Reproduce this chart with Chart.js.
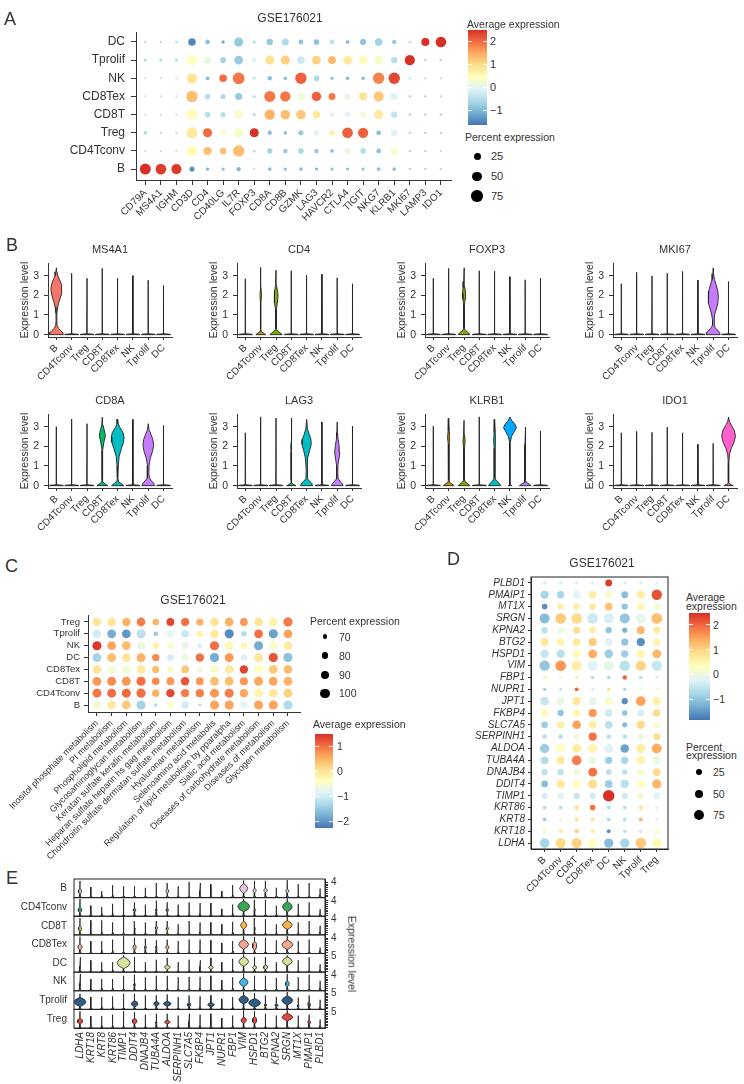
<!DOCTYPE html>
<html>
<head>
<meta charset="utf-8">
<script src="https://cdn.jsdelivr.net/npm/chart.js@4.4.0/dist/chart.umd.min.js"></script>
<style>
html,body{margin:0;padding:0;background:#fff}
body{position:relative;width:744px;height:1084px;overflow:hidden;font-family:"Liberation Sans",Arial,Helvetica,sans-serif;color:#333}
canvas{position:absolute}
.t{position:absolute;white-space:nowrap;line-height:1;color:#333}
.bar{position:absolute}
.dot{position:absolute;border-radius:50%;background:#000}
.wt{position:absolute;background:#fff;height:1px}
</style>
</head>
<body>
<script>
// ================= DATA =================
// ---- Panel A : dot plot of marker genes ----
const A_genes = ['CD79A','MS4A1','IGHM','CD3D','CD4','CD40LG','IL7R','FOXP3','CD8A','CD8B','GZMK','LAG3','HAVCR2','CTLA4','TIGIT','NKG7','KLRB1','MKI67','LAMP3','IDO1'];
const A_cells = ['B','CD4Tconv','Treg','CD8T','CD8Tex','NK','Tprolif','DC']; // bottom -> top
const A_avg_B        = [2.5, 2.4, 2.4, -1.4, -1.0, -0.9, -1.0, -0.4, -0.9, -0.9, -0.9, -0.9, -0.9, -0.9, -0.9, -0.9, -0.9, -0.5, -0.5, -0.5];
const A_pct_B        = [70, 65, 58, 12, 4, 4, 8, 2, 5, 4, 5, 4, 3, 3, 3, 6, 5, 2, 2, 2];
const A_avg_CD4Tconv = [-0.4, -0.4, -0.4, 0.5, 1.3, 1.3, 1.3, -0.4, -0.7, -0.8, -0.6, -0.8, -0.9, 0.1, -0.5, -0.9, 0.3, -0.5, -0.5, -0.5];
const A_pct_CD4Tconv = [1, 1, 1, 65, 35, 22, 75, 3, 12, 8, 15, 8, 5, 15, 15, 10, 25, 2, 2, 1];
const A_avg_Treg     = [-0.5, -0.4, -0.4, 0.8, 2.0, 0.3, 0.3, 2.5, -0.9, -0.9, -0.8, 0.0, 0.7, 2.1, 2.1, -0.9, -0.1, -0.5, -0.5, -0.5];
const A_pct_Treg     = [6, 2, 2, 70, 45, 15, 55, 45, 8, 5, 12, 15, 12, 65, 60, 10, 25, 2, 2, 2];
const A_avg_CD8T     = [-0.4, -0.4, -0.4, 0.5, -0.5, -0.5, 0.3, -0.6, 1.4, 1.3, 1.2, 0.8, 0.0, -0.1, 0.2, 0.8, -0.4, -0.5, -0.5, -0.5];
const A_pct_CD8T     = [1, 1, 1, 65, 15, 12, 45, 3, 60, 50, 50, 30, 10, 15, 18, 45, 20, 2, 2, 2];
const A_avg_CD8Tex   = [-0.4, -0.4, -0.4, 1.3, -0.5, -0.6, -0.8, -0.5, 1.9, 1.9, 0.2, 2.1, 1.9, 0.1, 0.9, 1.2, -0.1, -0.5, -0.5, -0.5];
const A_pct_CD8Tex   = [1, 1, 1, 75, 15, 12, 25, 3, 70, 60, 35, 50, 25, 20, 35, 60, 25, 2, 2, 1];
const A_avg_NK       = [-0.4, -0.4, -0.4, 0.9, -1.0, 2.0, 1.9, -0.5, -0.9, -0.9, 2.1, -0.6, -1.0, -1.0, -1.0, 1.8, 2.3, -0.5, -0.5, -0.5];
const A_pct_NK       = [1, 1, 1, 60, 5, 30, 80, 2, 8, 5, 75, 15, 3, 4, 4, 75, 75, 1, 1, 1];
const A_avg_Tprolif  = [-0.5, -0.5, -0.5, 0.4, 0.1, -0.7, -0.8, -0.1, 0.9, 1.1, -0.3, 1.1, 1.4, 0.8, 0.5, 0.3, -0.5, 2.5, -0.5, -0.5];
const A_pct_Tprolif  = [3, 3, 3, 70, 25, 15, 40, 8, 45, 45, 30, 40, 30, 40, 35, 40, 20, 60, 2, 2];
const A_avg_DC       = [-0.5, -0.5, -0.5, -1.5, -0.9, -1.1, -0.8, -0.5, -0.8, -0.6, -0.9, -0.9, -0.4, -1.0, -0.9, -0.7, -0.8, -0.5, 2.5, 2.5];
const A_pct_DC       = [2, 2, 2, 30, 10, 4, 45, 3, 20, 25, 10, 15, 12, 5, 18, 30, 8, 2, 35, 65];
const A_colorTicks = [2, 1, 0, -1];
const A_sizeLegend = [25, 50, 75];

// ---- Panel B : violin plots ----
const V_genes = ['MS4A1','CD4','FOXP3','MKI67','CD8A','LAG3','KLRB1','IDO1'];
const V_cells = ['B','CD4Tconv','Treg','CD8T','CD8Tex','NK','Tprolif','DC'];
const V_colors = ['#F8766D','#CD9600','#7CAE00','#00BE67','#00BFC4','#00A9FF','#C77CFF','#FF61CC'];
const V_yTicks = [0, 1, 2, 3];
// maximum expression (top of each violin), per cell type
const V_top_MS4A1 = [3.40, 3.12, 2.87, 3.37, 2.87, 3.00, 2.77, 2.50];
const V_top_CD4   = [2.84, 3.42, 3.28, 3.25, 3.02, 3.07, 2.89, 2.59];
const V_top_FOXP3 = [2.87, 3.37, 3.40, 3.25, 3.23, 2.95, 2.79, 2.87];
const V_top_MKI67 = [2.59, 3.17, 2.99, 3.12, 3.22, 2.77, 3.40, 2.70];
const V_top_CD8A  = [3.00, 3.39, 3.15, 3.49, 3.39, 3.37, 3.15, 3.07];
const V_top_LAG3  = [2.69, 3.50, 3.44, 3.44, 3.37, 3.24, 3.24, 3.03];
const V_top_KLRB1 = [3.02, 3.42, 3.32, 3.50, 3.37, 3.49, 2.98, 2.78];
const V_top_IDO1  = [2.69, 2.76, 2.71, 2.98, 2.69, 2.10, 2.15, 3.49];
// outlines of the visibly expressed violins: [expression level, half width]
const V_MS4A1_B = [[0,0.45],[0.1,0.42],[0.2,0.3],[0.32,0.14],[0.45,0.05],[0.7,0.025],[1.1,0.03],[1.4,0.08],[1.7,0.18],[2.0,0.3],[2.3,0.36],[2.55,0.32],[2.8,0.2],[3.0,0.09],[3.2,0.03],[3.4,0]];
const V_CD4_CD4Tconv = [[0,0.32],[0.06,0.22],[0.14,0.05],[0.25,0.015],[1.6,0.015],[2.0,0.05],[2.4,0.015],[3.42,0]];
const V_CD4_Treg = [[0,0.4],[0.08,0.3],[0.18,0.1],[0.3,0.02],[1.3,0.03],[1.6,0.08],[1.9,0.13],[2.2,0.1],[2.5,0.03],[3.28,0]];
const V_FOXP3_Treg = [[0,0.38],[0.1,0.28],[0.2,0.1],[0.32,0.02],[1.5,0.03],[1.8,0.07],[2.1,0.1],[2.4,0.06],[2.7,0.02],[3.4,0]];
const V_MKI67_Tprolif = [[0,0.45],[0.1,0.42],[0.22,0.3],[0.35,0.12],[0.5,0.05],[0.75,0.05],[1.0,0.1],[1.3,0.2],[1.6,0.3],[1.9,0.33],[2.2,0.3],[2.5,0.2],[2.8,0.08],[3.1,0.02],[3.4,0]];
const V_CD8A_CD8T = [[0,0.35],[0.08,0.2],[0.18,0.04],[0.3,0.015],[1.8,0.02],[2.2,0.1],[2.55,0.2],[2.85,0.12],[3.1,0.03],[3.49,0]];
const V_CD8A_CD8Tex = [[0,0.4],[0.1,0.25],[0.2,0.05],[0.4,0.02],[1.0,0.04],[1.5,0.1],[1.9,0.25],[2.2,0.38],[2.45,0.42],[2.7,0.35],[2.95,0.15],[3.15,0.04],[3.39,0]];
const V_CD8A_Tprolif = [[0,0.42],[0.12,0.35],[0.25,0.2],[0.4,0.08],[0.6,0.04],[1.0,0.05],[1.4,0.13],[1.75,0.28],[2.05,0.35],[2.35,0.3],[2.6,0.18],[2.85,0.05],[3.15,0]];
const V_LAG3_CD8T = [[0,0.3],[0.06,0.15],[0.12,0.03],[0.3,0.015],[1.7,0.02],[2.0,0.04],[2.3,0.02],[3.44,0]];
const V_LAG3_CD8Tex = [[0,0.4],[0.1,0.35],[0.22,0.2],[0.35,0.05],[0.8,0.03],[1.4,0.08],[1.8,0.2],[2.1,0.3],[2.35,0.28],[2.6,0.17],[2.9,0.05],[3.37,0]];
const V_LAG3_Tprolif = [[0,0.38],[0.1,0.32],[0.22,0.18],[0.35,0.06],[0.6,0.03],[1.0,0.04],[1.3,0.1],[1.7,0.17],[2.05,0.12],[2.4,0.05],[2.7,0.02],[3.24,0]];
const V_KLRB1_CD4Tconv = [[0,0.35],[0.08,0.22],[0.16,0.06],[0.28,0.02],[2.1,0.03],[2.45,0.08],[2.8,0.03],[3.42,0]];
const V_KLRB1_Treg = [[0,0.38],[0.08,0.28],[0.18,0.1],[0.3,0.02],[1.9,0.03],[2.25,0.07],[2.6,0.03],[3.32,0]];
const V_KLRB1_CD8Tex = [[0,0.4],[0.1,0.32],[0.22,0.15],[0.35,0.03],[1.9,0.03],[2.3,0.07],[2.7,0.03],[3.37,0]];
const V_KLRB1_NK = [[0,0.12],[0.05,0.04],[0.15,0.015],[2.2,0.03],[2.5,0.1],[2.75,0.28],[2.95,0.42],[3.15,0.3],[3.3,0.12],[3.49,0]];
const V_KLRB1_Tprolif = [[0,0.38],[0.08,0.25],[0.16,0.08],[0.26,0.02],[1.6,0.02],[1.85,0.035],[2.1,0.02],[2.98,0]];
const V_IDO1_DC = [[0,0.3],[0.04,0.18],[0.1,0.04],[0.2,0.015],[1.2,0.02],[1.6,0.06],[1.9,0.18],[2.2,0.35],[2.5,0.45],[2.8,0.38],[3.05,0.2],[3.25,0.06],[3.49,0]];

// ---- Panel C : pathway dot plot ----
const C_paths = ['Inositol phosphate metabolism','PI metabolism','Phospholipid metabolism','Glycosaminoglycan metabolism','Keratan sulfate keratin metabolism','Heparan sulfate heparin hs gag metabolism','Chondroitin sulfate dermatan sulfate metabolism','Hyaluronan metabolism','Selenoamino acid metabolis','Regulation of lipid metabolism by pparalpha','Sialic acid metabolism','Diseases of carbohydrate metabolism','Diseases of metabolism','Glycogen metabolism'];
const C_cells = ['B','CD4Tconv','CD8T','CD8Tex','DC','NK','Tprolif','Treg']; // bottom -> top
const C_avg_B        = [-0.6, -0.1, 0.3, -1.4, -1.3, -0.4, -1.0, -1.4, 0.6, 0.6, -0.8, 0.6, 0.6, -1.3];
const C_pct_B        = [92, 95, 95, 98, 66, 80, 85, 63, 98, 98, 85, 98, 98, 98];
const C_avg_CD4Tconv = [0.95, 1.0, 1.05, 1.0, 0.5, 1.3, 0.9, 0.9, 0.7, 0.9, 0.6, -0.2, -0.1, 0.2];
const C_pct_CD4Tconv = [96, 97, 97, 98, 85, 92, 92, 90, 97, 97, 90, 96, 96, 96];
const C_avg_CD8T     = [0.7, 0.8, 0.7, 1.0, 0.8, 0.7, 1.2, 0.7, 0.4, 0.4, 0.7, 0.6, 0.6, 0.5];
const C_pct_CD8T     = [95, 96, 96, 98, 86, 88, 92, 88, 96, 96, 90, 96, 96, 96];
const C_avg_CD8Tex   = [0.0, -0.6, -0.6, -0.1, 0.4, -0.5, 0.3, -0.6, -0.5, -0.1, 1.3, -0.4, 0.3, 0.4];
const C_pct_CD8Tex   = [93, 93, 93, 95, 84, 82, 88, 80, 95, 95, 92, 95, 95, 95];
const C_avg_DC       = [-1.4, 0.4, 0.0, 0.5, 0.8, -1.0, -0.7, 1.0, -1.8, 0.7, -0.9, 0.0, 1.2, -1.6];
const C_pct_DC       = [95, 95, 95, 95, 85, 80, 85, 92, 98, 95, 80, 95, 98, 98];
const C_avg_NK       = [1.4, 0.6, 0.4, -0.7, -0.2, -0.5, -0.7, -1.0, 1.0, -0.3, -0.3, -1.8, -0.5, -0.1];
const C_pct_NK       = [98, 95, 95, 90, 80, 80, 85, 68, 98, 95, 80, 98, 95, 95];
const C_avg_Tprolif  = [-1.0, -1.8, -2.0, -1.2, -1.5, -0.8, -1.1, -0.2, -0.1, -2.1, -1.3, 1.0, -1.9, 0.6];
const C_pct_Tprolif  = [95, 95, 95, 98, 70, 85, 85, 80, 95, 98, 74, 95, 98, 95];
const C_avg_Treg     = [0.0, 0.0, 0.5, 0.9, 0.5, 1.3, 1.0, 0.5, 0.0, 0.5, 0.7, 0.0, -0.2, 0.9];
const C_pct_Treg     = [92, 93, 93, 95, 80, 88, 90, 84, 95, 95, 88, 95, 95, 100];
const C_colorTicks = [1, 0, -1, -2];
const C_sizeLegend = [70, 80, 90, 100];

// ---- Panel D : dot plot of metabolic genes ----
const D_genes = ['LDHA','KRT18','KRT8','KRT86','TIMP1','DDIT4','DNAJB4','TUBA4A','ALDOA','SERPINH1','SLC7A5','FKBP4','JPT1','NUPR1','FBP1','VIM','HSPD1','BTG2','KPNA2','SRGN','MT1X','PMAIP1','PLBD1']; // bottom -> top
const D_cells = ['B','CD4Tconv','CD8T','CD8Tex','DC','NK','Tprolif','Treg'];
const D_avg_B        = [-0.8, 0.5, -0.9, -0.7, -0.4, -1.1, -0.6, -0.7, -0.9, -0.6, -0.9, 0.4, -0.5, -0.9, 0.5, -1.0, -0.5, 0.7, -0.6, -1.1, -1.6, -0.8, -0.3];
const D_pct_B        = [60, 4, 4, 4, 15, 25, 20, 35, 55, 10, 25, 30, 40, 3, 4, 70, 40, 40, 20, 65, 15, 40, 3];
const D_avg_CD4Tconv = [0.9, 0.7, -0.1, -0.7, -0.2, 0.7, -0.6, 0.7, 0.3, -0.6, 0.6, -1.0, 0.0, -0.5, 0.0, 1.6, -0.6, 0.5, 0.0, 1.1, 0.6, -0.8, -0.3];
const D_pct_CD4Tconv = [70, 5, 3, 5, 25, 45, 20, 40, 50, 10, 30, 20, 35, 2, 4, 75, 40, 35, 20, 75, 20, 30, 3];
const D_avg_CD8T     = [1.0, 1.0, 0.8, 0.8, -0.5, 0.3, 0.0, 1.8, 0.6, 0.0, 1.5, 0.5, 0.7, 2.0, 0.6, 0.6, 0.4, 0.7, 0.9, 0.9, 0.6, -0.2, -0.3];
const D_pct_CD8T     = [70, 7, 5, 8, 20, 45, 25, 60, 55, 15, 45, 25, 40, 5, 4, 65, 40, 35, 25, 75, 22, 35, 3];
const D_avg_CD8Tex   = [0.3, 0.7, 0.8, 1.9, -0.4, 0.9, 1.9, 0.0, 0.5, 1.9, 0.6, 1.6, -0.1, -0.3, -0.7, -0.2, 1.4, 1.1, 0.6, -0.4, 0.7, 0.6, -0.3];
const D_pct_CD8Tex   = [60, 6, 5, 15, 20, 50, 50, 40, 55, 40, 35, 40, 35, 2, 3, 65, 50, 38, 25, 75, 25, 35, 3];
const D_avg_DC       = [-1.1, -1.6, -0.7, -0.7, 2.5, -0.9, -0.6, -0.9, -0.2, -0.6, -0.6, -0.4, 0.2, 0.8, -0.7, -0.1, -0.9, -0.2, -1.0, -0.3, 1.2, 0.2, 2.4];
const D_pct_DC       = [55, 5, 4, 4, 90, 35, 15, 30, 55, 10, 35, 35, 40, 3, 4, 70, 45, 35, 20, 70, 35, 35, 25];
const D_avg_NK       = [-0.8, -0.6, -0.7, -0.7, -0.4, -0.6, -0.6, -0.8, -1.4, -0.6, -1.1, -1.0, -1.6, -0.8, 2.0, -0.6, -0.9, -1.0, -1.2, -1.0, -1.0, -1.1, -0.3];
const D_pct_NK       = [55, 4, 4, 4, 20, 40, 12, 30, 45, 10, 12, 15, 20, 3, 8, 75, 30, 30, 12, 65, 20, 25, 3];
const D_avg_Tprolif  = [1.1, -0.4, 1.3, 0.7, 0.1, 0.3, 0.1, 0.5, 0.6, 0.0, 0.9, -0.3, 1.5, 0.1, -0.6, 1.0, 0.5, -1.6, 1.3, -0.1, 0.5, 0.6, -0.3];
const D_pct_Tprolif  = [75, 4, 5, 10, 25, 45, 30, 45, 55, 20, 40, 30, 60, 2, 4, 70, 40, 40, 35, 70, 30, 40, 3];
const D_avg_Treg     = [0.4, 0.4, -0.2, -0.2, -0.2, 1.3, 0.9, 0.0, 1.4, 0.9, 0.1, 0.9, 0.6, 0.1, -0.3, -0.5, 1.3, 0.5, 0.7, 1.2, 0.1, 2.2, -0.3];
const D_pct_Treg     = [60, 4, 3, 4, 25, 55, 35, 40, 65, 25, 30, 30, 40, 2, 3, 70, 50, 35, 25, 80, 25, 70, 3];
const D_colorTicks = [2, 1, 0, -1];
const D_sizeLegend = [25, 50, 75];

// ---- Panel E : stacked violins ----
const E_genes = D_genes.slice();
const E_rows = ['B','CD4Tconv','CD8T','CD8Tex','DC','NK','Tprolif','Treg']; // top -> bottom
const E_rowMax = [4, 4, 4, 4, 5, 4, 5, 5];
const E_colors = ['#e9c6dc','#3aa655','#f7b347','#f6a68f','#d6e29a','#41b6ee','#2e5c83','#e8463f'];
const E_top_B        = [4.37, 2.7, 1.6, 3.2, 2.9, 2.9, 2.5, 3.8, 3.8, 2.9, 4.1, 3.8, 3.5, 1.6, 3.2, 4.5, 4.4, 4.4, 2.5, 4.6, 3.5, 3.8, 2.3];
const E_top_CD4Tconv = [4.55, 2.7, 2.3, 3.2, 4.55, 3.6, 3.0, 4.1, 3.6, 3.0, 3.6, 3.4, 3.4, 1.8, 3.0, 4.55, 4.3, 4.3, 2.7, 4.7, 3.2, 3.6, 1.8];
const E_top_CD8T     = [4.4, 3.8, 3.8, 3.2, 4.7, 3.6, 3.2, 3.6, 3.6, 2.7, 3.6, 3.2, 3.2, 2.7, 3.4, 4.7, 4.4, 4.1, 2.7, 4.7, 3.2, 3.6, 2.3];
const E_top_CD8Tex   = [4.4, 3.2, 3.2, 3.6, 4.55, 4.1, 3.9, 3.4, 3.6, 3.2, 3.6, 3.6, 3.4, 2.7, 3.2, 4.55, 4.3, 4.1, 3.4, 4.55, 3.2, 3.6, 1.4];
const E_top_DC       = [4.6, 3.6, 3.0, 3.0, 5.2, 4.6, 3.0, 3.8, 4.4, 3.0, 3.8, 3.6, 4.4, 3.0, 4.1, 5.5, 4.6, 4.6, 3.0, 5.2, 3.6, 4.6, 2.3];
const E_top_NK       = [4.4, 3.0, 3.0, 3.0, 3.9, 4.2, 3.5, 3.9, 3.9, 3.5, 3.6, 3.6, 3.9, 2.7, 3.5, 4.55, 3.9, 3.9, 3.3, 4.4, 3.5, 4.2, 2.5];
const E_top_Tprolif  = [4.85, 3.8, 3.8, 4.0, 4.85, 4.85, 4.3, 4.3, 4.6, 3.8, 4.3, 4.0, 4.3, 3.2, 3.8, 5.4, 5.1, 4.3, 3.8, 5.4, 3.6, 4.3, 2.9];
const E_top_Treg     = [5.2, 3.6, 3.6, 4.1, 5.2, 4.9, 4.1, 4.4, 4.4, 3.8, 4.4, 4.1, 4.4, 3.0, 3.8, 5.5, 5.2, 4.4, 3.8, 5.5, 3.8, 4.1, 2.5];
// bulges: [centre level, half width, half height]; 0 = plain spike
const E_bulge_B        = [[1.5,0.15,0.7],0,0,0,0,0,0,0,[1.6,0.13,0.6],0,0,[1.3,0.06,0.4],[1.3,0.06,0.4],0,0,[2.3,0.37,1.3],[1.8,0.15,0.6],[1.8,0.16,0.6],0,[1.6,0.15,0.5],0,0,0];
const E_bulge_CD4Tconv = [[1.5,0.17,0.7],0,0,0,0,[1.5,0.12,0.5],0,[1.5,0.06,0.4],[1.5,0.1,0.5],0,0,0,0,0,0,[2.5,0.55,1.5],[1.5,0.06,0.4],0,0,[2.4,0.45,1.4],0,0,0];
const E_bulge_CD8T     = [[1.5,0.15,0.7],0,0,0,0,[1.5,0.05,0.4],0,[1.7,0.1,0.5],[1.5,0.1,0.5],0,0,0,0,0,0,[2.45,0.28,1.1],[1.5,0.05,0.4],0,0,[2.5,0.45,1.2],0,0,0];
const E_bulge_CD8Tex   = [[1.6,0.2,0.8],0,0,0,0,[1.5,0.15,0.8],[1.5,0.08,0.5],[1.5,0.06,0.4],[1.5,0.15,0.6],0,0,0,0,0,0,[2.3,0.45,1.3],[1.9,0.2,1.2],0,0,[2.2,0.5,1.3],0,0,0];
const E_bulge_DC       = [[1.2,0.08,0.5],0,0,0,[2.8,0.6,1.9],0,0,0,[1.4,0.25,0.7],0,0,[1.2,0.06,0.4],[1.3,0.2,0.6],0,0,[3.2,0.45,1.5],[1.3,0.18,0.6],[1.4,0.2,0.7],0,[3.3,0.45,1.4],0,0,0];
const E_bulge_NK       = [[1.3,0.08,0.5],0,0,0,0,[1.4,0.07,0.5],0,0,0,0,0,0,0,0,0,[2.1,0.4,1.2],0,0,0,[1.7,0.18,0.8],0,0,0];
const E_bulge_Tprolif  = [[2.2,0.55,1.5],0,0,0,0,[1.6,0.3,1.0],0,[1.6,0.25,0.8],[1.6,0.35,0.8],0,[1.3,0.15,0.7],0,[1.3,0.3,0.7],0,0,[2.9,0.45,1.4],[1.9,0.55,1.4],[1.2,0.1,0.5],[1.1,0.15,0.5],[2.7,0.5,1.5],[0.9,0.08,0.4],[1.3,0.12,0.7],0];
const E_bulge_Treg     = [[2.0,0.25,0.9],0,0,0,0,[2.0,0.22,0.9],0,[1.5,0.06,0.5],[1.7,0.25,0.6],0,[1.5,0.06,0.4],0,[1.5,0.06,0.4],0,0,[2.3,0.25,1.0],[2.3,0.2,1.2],0,0,[3.3,0.5,1.2],0,[1.6,0.12,0.6],0];

// ================= HELPERS =================
Chart.defaults.font.family = '"Liberation Sans", Arial, Helvetica, sans-serif';
Chart.defaults.color = '#333';
Chart.defaults.animation = false;
Chart.defaults.responsive = false;
Chart.defaults.events = [];
Chart.defaults.plugins.legend.display = false;
Chart.defaults.plugins.tooltip.enabled = false;

Chart.register({
  id: 'violinFill',
  beforeDatasetDraw(chart, args) {
    const ds = chart.data.datasets[args.index];
    if (!ds.violinFill) return;
    const pts = args.meta.data, ctx = chart.ctx;
    ctx.save();
    ctx.beginPath();
    pts.forEach((p, i) => i ? ctx.lineTo(p.x, p.y) : ctx.moveTo(p.x, p.y));
    ctx.closePath();
    ctx.fillStyle = ds.violinFill;
    ctx.fill();
    ctx.restore();
  }
});
Chart.register({
  id: 'frame',
  afterDraw(chart) {
    const f = chart.options.plugins.frameBox;
    if (!f) return;
    const a = chart.chartArea, ctx = chart.ctx;
    ctx.save();
    ctx.strokeStyle = '#222';
    ctx.lineWidth = 1;
    ctx.strokeRect(a.left, a.top, a.right - a.left, a.bottom - a.top);
    ctx.restore();
  }
});

const RDYLBU = ['#4575b4','#74add1','#abd9e9','#e0f3f8','#ffffbf','#fee090','#fdae61','#f46d43','#d73027'];
function hex(h) { return [1,3,5].map(i => parseInt(h.substr(i, 2), 16)); }
function colorAt(v, lo, hi) {
  let t = (v - lo) / (hi - lo); t = Math.max(0, Math.min(1, t));
  const f = t * (RDYLBU.length - 1);
  const i = Math.min(Math.floor(f), RDYLBU.length - 2), u = f - i;
  const a = hex(RDYLBU[i]), b = hex(RDYLBU[i + 1]);
  return 'rgb(' + a.map((c, k) => Math.round(c + (b[k] - c) * u)).join(',') + ')';
}
const rA = p => 0.5 + 6.0 * Math.sqrt(p / 100);
const rC = p => Math.sqrt(Math.max(1.2, 5.3 + (p - 70) * 0.557));
const rD = p => 0.8 + 5.2 * Math.sqrt(p / 100);

function place(left, top, w, h) {
  const c = document.createElement('canvas');
  c.width = w; c.height = h;
  c.style.left = left + 'px'; c.style.top = top + 'px';
  c.style.width = w + 'px'; c.style.height = h + 'px';
  document.body.appendChild(c);
  return c;
}
function txt(s, x, y, o = {}) {
  const d = document.createElement('div');
  d.className = 't';
  d.textContent = s;
  d.style.fontSize = (o.size || 10) + 'px';
  if (o.italic) d.style.fontStyle = 'italic';
  if (o.color) d.style.color = o.color;
  d.style.left = x + 'px'; d.style.top = y + 'px';
  const tx = o.align === 'c' ? '-50%' : o.align === 'r' ? '-100%' : '0';
  d.style.transform = 'translate(' + tx + ',-50%)' + (o.rot ? ' rotate(' + o.rot + 'deg)' : '');
  document.body.appendChild(d);
}
function colorbar(x, y, w, h, lo, hi, ticks, labelX, fs) {
  const d = document.createElement('div');
  d.className = 'bar';
  Object.assign(d.style, {left: x + 'px', top: y + 'px', width: w + 'px', height: h + 'px',
    background: 'linear-gradient(to top,' + RDYLBU.join(',') + ')'});
  document.body.appendChild(d);
  ticks.forEach(v => {
    const ty = y + h - (v - lo) / (hi - lo) * h;
    [x, x + w - 4].forEach(tx => {
      const t = document.createElement('div'); t.className = 'wt';
      Object.assign(t.style, {left: tx + 'px', top: (ty - 0.5) + 'px', width: '4px'});
      document.body.appendChild(t);
    });
    txt(v < 0 ? '\u2212' + Math.abs(v) : String(v), labelX, ty, {size: fs});
  });
}
function sizeLegend(x, ys, vals, rf, labelX, fs) {
  vals.forEach((v, i) => {
    const r = rf(v), d = document.createElement('div');
    d.className = 'dot';
    Object.assign(d.style, {left: (x - r) + 'px', top: (ys[i] - r) + 'px', width: 2 * r + 'px', height: 2 * r + 'px'});
    document.body.appendChild(d);
    txt(String(v), labelX, ys[i], {size: fs});
  });
}
function scale(o) {
  return {
    type: 'linear', min: o.min, max: o.max, position: o.position, display: o.display !== false,
    border: {display: true, color: '#333', width: 1},
    grid: {display: true, drawOnChartArea: false, drawTicks: (o.tickLen || 0) > 0, tickLength: o.tickLen || 0,
           color: '#333', tickColor: '#333', lineWidth: 1},
    ticks: {autoSkip: false, color: '#333', padding: o.pad == null ? 4 : o.pad,
            font: {size: o.fontSize || 10, style: o.italic ? 'italic' : 'normal'},
            minRotation: o.rot || 0, maxRotation: o.rot || 0, callback: o.labelFn},
    afterBuildTicks: sc => { sc.ticks = o.tickValues.map(v => ({value: v})); },
    afterFit: sc => { if (o.w != null) sc.width = o.w; if (o.h != null) sc.height = o.h; }
  };
}
function dotChart(canvas, pts, pad, xs, ys, boxed) {
  return new Chart(canvas, {
    type: 'bubble',
    data: {datasets: [{data: pts, backgroundColor: pts.map(p => p.c), borderWidth: 0, hoverRadius: 0, clip: false}]},
    options: {layout: {padding: pad}, scales: {x: xs, y: ys}, plugins: {frameBox: !!boxed}}
  });
}
function violinPolygon(xc, outline) {
  const right = outline.map(([y, w]) => ({x: xc + w, y}));
  const left = outline.slice().reverse().filter(([y, w], i) => !(i === 0 && w === 0)).map(([y, w]) => ({x: xc - w, y}));
  const pts = right.concat(left);
  pts.push({x: pts[0].x, y: pts[0].y});
  return pts;
}
const idx = n => Array.from({length: n}, (_, i) => i);

// ================= PANEL A =================
(function () {
  const avg = [A_avg_B, A_avg_CD4Tconv, A_avg_Treg, A_avg_CD8T, A_avg_CD8Tex, A_avg_NK, A_avg_Tprolif, A_avg_DC];
  const pct = [A_pct_B, A_pct_CD4Tconv, A_pct_Treg, A_pct_CD8T, A_pct_CD8Tex, A_pct_NK, A_pct_Tprolif, A_pct_DC];
  const lo = -1.65, hi = 2.5, pts = [];
  A_cells.forEach((c, ci) => A_genes.forEach((g, gi) => {
    pts.push({x: gi, y: ci, r: rA(pct[ci][gi]), c: colorAt(avg[ci][gi], lo, hi)});
  }));
  dotChart(place(0, 0, 460, 240), pts, {top: 32, right: 9, left: 0, bottom: 0},
    scale({min: -0.6, max: 19.65, tickValues: idx(A_genes.length), labelFn: v => A_genes[v], rot: 45, fontSize: 10, tickLen: 5, pad: 2, h: 60}),
    scale({min: -0.6, max: 7.55, tickValues: idx(A_cells.length), labelFn: v => A_cells[v], fontSize: 12, tickLen: 5, pad: 6, w: 136}));
  txt('A', 4, 18.5, {size: 18});
  txt('GSE176021', 290, 18, {size: 12, align: 'c'});
  txt('Average expression', 467, 23.5, {size: 10.5});
  colorbar(468, 30, 19, 95, lo, hi, A_colorTicks, 490, 11);
  txt('Percent expression', 465, 137, {size: 10.5});
  sizeLegend(477, [156.3, 176.3, 196], A_sizeLegend, rA, 491, 11);
})();

// ================= PANEL B =================
(function () {
  const tops = {MS4A1: V_top_MS4A1, CD4: V_top_CD4, FOXP3: V_top_FOXP3, MKI67: V_top_MKI67, CD8A: V_top_CD8A, LAG3: V_top_LAG3, KLRB1: V_top_KLRB1, IDO1: V_top_IDO1};
  const shapes = {
    'MS4A1|B': V_MS4A1_B, 'CD4|CD4Tconv': V_CD4_CD4Tconv, 'CD4|Treg': V_CD4_Treg, 'FOXP3|Treg': V_FOXP3_Treg,
    'MKI67|Tprolif': V_MKI67_Tprolif, 'CD8A|CD8T': V_CD8A_CD8T, 'CD8A|CD8Tex': V_CD8A_CD8Tex, 'CD8A|Tprolif': V_CD8A_Tprolif,
    'LAG3|CD8T': V_LAG3_CD8T, 'LAG3|CD8Tex': V_LAG3_CD8Tex, 'LAG3|Tprolif': V_LAG3_Tprolif,
    'KLRB1|CD4Tconv': V_KLRB1_CD4Tconv, 'KLRB1|Treg': V_KLRB1_Treg, 'KLRB1|CD8Tex': V_KLRB1_CD8Tex, 'KLRB1|NK': V_KLRB1_NK,
    'KLRB1|Tprolif': V_KLRB1_Tprolif, 'IDO1|DC': V_IDO1_DC
  };
  const axisX = [48, 237, 425, 613], areaTops = [262, 413], areaW = 124, areaH = 75;
  txt('B', 6, 245, {size: 18});
  V_genes.forEach((g, gi) => {
    const col = gi % 4, row = Math.floor(gi / 4);
    const ax0 = axisX[col], at = areaTops[row];
    const datasets = V_cells.map((c, ci) => {
      const own = shapes[g + '|' + c];
      const outline = own || [[0, 0.46], [0.02, 0.4], [0.045, 0.012], [tops[g][ci], 0]];
      return {data: violinPolygon(ci, outline), showLine: true, borderColor: '#222', borderWidth: 0.9,
              pointRadius: 0, pointHoverRadius: 0, tension: 0, violinFill: own ? V_colors[ci] : '#444'};
    });
    new Chart(place(ax0 - 46, at - 10, 46 + areaW + 14, 10 + areaH + 62), {
      type: 'scatter',
      data: {datasets},
      options: {
        layout: {padding: {top: 10, right: 14, left: 0, bottom: 0}},
        scales: {
          x: scale({min: -0.55, max: 7.55, tickValues: idx(8), labelFn: v => V_cells[v], rot: 45, fontSize: 10, tickLen: 3, pad: 2, h: 62}),
          y: scale({min: -0.12, max: 3.63, tickValues: V_yTicks, labelFn: v => String(v), fontSize: 10.5, tickLen: 4, pad: 5, w: 46})
        }
      }
    });
    txt(g, ax0 + areaW / 2, at - 13, {size: 11, align: 'c'});
    txt('Expression level', ax0 - 24, at + areaH / 2, {size: 10.5, align: 'c', rot: -90});
  });
})();

// ================= PANEL C =================
(function () {
  const avg = [C_avg_B, C_avg_CD4Tconv, C_avg_CD8T, C_avg_CD8Tex, C_avg_DC, C_avg_NK, C_avg_Tprolif, C_avg_Treg];
  const pct = [C_pct_B, C_pct_CD4Tconv, C_pct_CD8T, C_pct_CD8Tex, C_pct_DC, C_pct_NK, C_pct_Tprolif, C_pct_Treg];
  const lo = -2.28, hi = 1.48, pts = [];
  C_cells.forEach((c, ci) => C_paths.forEach((p, pi) => {
    pts.push({x: pi, y: ci, r: rC(pct[ci][pi]), c: colorAt(avg[ci][pi], lo, hi)});
  }));
  dotChart(place(0, 600, 310, 265), pts, {top: 15, right: 10, left: 0, bottom: 0},
    scale({min: -0.61, max: 13.82, tickValues: idx(C_paths.length), labelFn: v => C_paths[v], rot: 45, fontSize: 9, tickLen: 4, pad: 2, h: 153}),
    scale({min: -0.59, max: 7.59, tickValues: idx(C_cells.length), labelFn: v => C_cells[v], fontSize: 9.5, tickLen: 4, pad: 4, w: 88}));
  txt('C', 5, 565.5, {size: 18});
  txt('GSE176021', 193, 600, {size: 12, align: 'c'});
  txt('Percent expression', 310, 621, {size: 10.5});
  sizeLegend(325, [636.7, 655.7, 674.7, 693.3], C_sizeLegend, rC, 339, 10.5);
  txt('Average expression', 313, 724, {size: 10.5});
  colorbar(315, 734, 18, 94, lo, hi, C_colorTicks, 337, 10.5);
})();

// ================= PANEL D =================
(function () {
  const avg = [D_avg_B, D_avg_CD4Tconv, D_avg_CD8T, D_avg_CD8Tex, D_avg_DC, D_avg_NK, D_avg_Tprolif, D_avg_Treg];
  const pct = [D_pct_B, D_pct_CD4Tconv, D_pct_CD8T, D_pct_CD8Tex, D_pct_DC, D_pct_NK, D_pct_Tprolif, D_pct_Treg];
  const lo = -1.84, hi = 2.48, pts = [];
  D_cells.forEach((c, ci) => D_genes.forEach((g, gi) => {
    pts.push({x: ci, y: gi, r: rD(pct[ci][gi]), c: colorAt(avg[ci][gi], lo, hi)});
  }));
  dotChart(place(440, 565, 240, 340), pts, {top: 12, right: 12, left: 0, bottom: 0},
    scale({min: -0.85, max: 7.7, tickValues: idx(D_cells.length), labelFn: v => D_cells[v], rot: 45, fontSize: 10, tickLen: 3, pad: 2, h: 56}),
    scale({min: -0.5, max: 22.5, tickValues: idx(D_genes.length), labelFn: v => D_genes[v], fontSize: 10, italic: true, tickLen: 3, pad: 3, w: 91}), true);
  txt('D', 447, 559, {size: 18});
  txt('GSE176021', 602, 563, {size: 12, align: 'c'});
  txt('Average', 686, 597, {size: 10.5});
  txt('expression', 686, 605.5, {size: 10.5});
  colorbar(689, 613, 21, 107, lo, hi, D_colorTicks, 713, 10.5);
  txt('Percent', 686, 746.5, {size: 10.5});
  txt('expression', 686, 755, {size: 10.5});
  sizeLegend(699, [772, 794, 815], D_sizeLegend, rD, 713, 10.5);
})();

// ================= PANEL E =================
(function () {
  const tops = [E_top_B, E_top_CD4Tconv, E_top_CD8T, E_top_CD8Tex, E_top_DC, E_top_NK, E_top_Tprolif, E_top_Treg];
  const bulges = [E_bulge_B, E_bulge_CD4Tconv, E_bulge_CD8T, E_bulge_CD8Tex, E_bulge_DC, E_bulge_NK, E_bulge_Tprolif, E_bulge_Treg];
  const top0 = 879, bandH = 18.625, left = 74, right = 325, W = 360;
  function outline(top, b) {
    const o = [[0, 0.12], [0.2, 0.03]];
    if (b) {
      const [c, w, h] = b;
      o.push([Math.max(0.3, c - h), 0.02], [c - h * 0.5, w * 0.75], [c, w], [c + h * 0.5, w * 0.75], [Math.min(top - 0.1, c + h), 0.02]);
    } else {
      o.push([0.5, 0.012]);
    }
    o.push([top, 0]);
    return o.sort((p, q) => p[0] - q[0]);
  }
  txt('E', 6, 878, {size: 18});
  E_rows.forEach((row, i) => {
    const areaTop = top0 + i * bandH;
    const cTop = Math.floor(areaTop) - 10;
    const padTop = areaTop - cTop;
    const last = i === E_rows.length - 1;
    const h = Math.ceil(padTop + bandH + (last ? 60 : 10));
    const below = h - padTop - bandH;
    const M = E_rowMax[i];
    const datasets = E_genes.map((g, gi) => ({
      data: violinPolygon(gi, outline(tops[i][gi], bulges[i][gi])), showLine: true, borderColor: '#222', borderWidth: 0.8,
      pointRadius: 0, pointHoverRadius: 0, tension: 0, violinFill: E_colors[i]
    }));
    const ticks = [];
    for (let v = 0; v <= M + 1e-9; v += 0.5) ticks.push(v);
    const xs = scale({min: -0.55, max: 22.45, tickValues: idx(E_genes.length), labelFn: v => E_genes[v], rot: 90, fontSize: 10, italic: true, tickLen: 0, pad: 4, h: last ? below : 0, display: last});
    new Chart(place(0, cTop, W, h), {
      type: 'scatter',
      data: {datasets},
      options: {
        layout: {padding: {top: padTop, right: 0, left: left, bottom: last ? 0 : below}},
        scales: {
          x: xs,
          y: scale({min: -0.2, max: M === 4 ? 4.9 : 5.8, position: 'right', tickValues: ticks, labelFn: v => (Math.abs(v - M) < 1e-6 ? String(M) : ''), fontSize: 10, tickLen: 3, pad: 3, w: W - right})
        },
        plugins: {frameBox: true}
      }
    });
    txt(row, 67, areaTop + bandH / 2, {size: 10, align: 'r'});
  });
  txt('Expression level', 352, top0 + bandH * 4, {size: 10.5, align: 'c', rot: 90});
})();
</script>
</body>
</html>
